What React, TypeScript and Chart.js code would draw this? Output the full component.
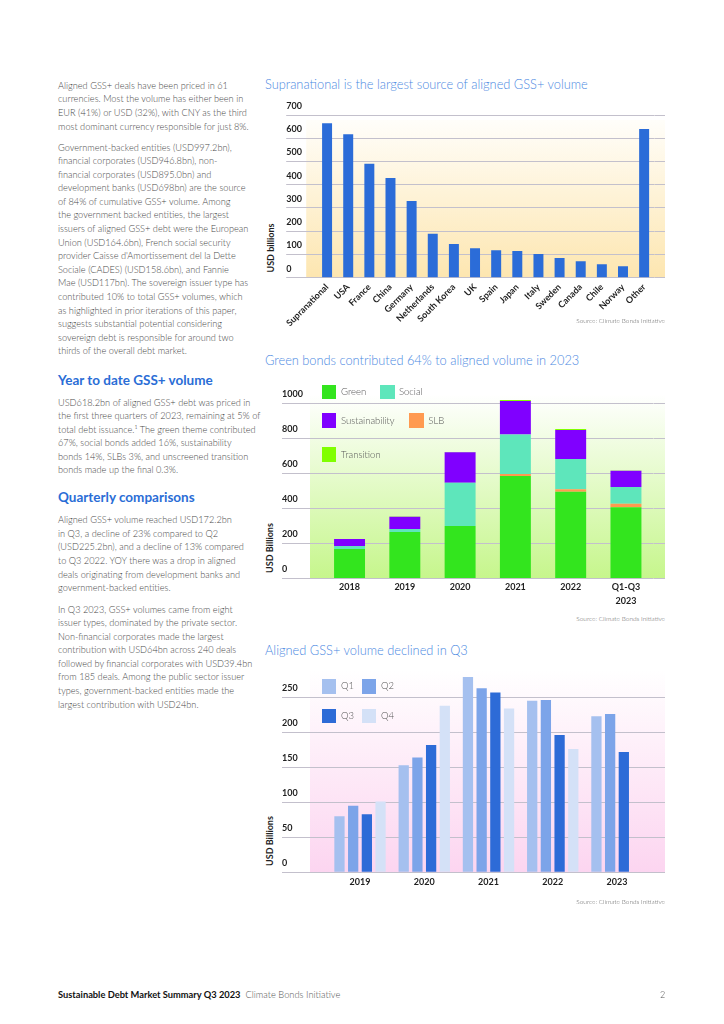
import React, { useEffect, useRef } from "react";
import { Chart, registerables } from "chart.js";

Chart.register(...registerables);

const FONT = "Lato, 'Open Sans', 'DejaVu Sans', sans-serif";
Chart.defaults.font.family = FONT;

// ---------- Chart 1: issuer countries ----------
const ISSUER_CATEGORIES = [
  "Supranational", "USA", "France", "China", "Germany", "Netherlands", "South Korea",
  "UK", "Spain", "Japan", "Italy", "Sweden", "Canada", "Chile", "Norway", "Other",
];
const ISSUER_VOLUMES = [664, 617, 490, 429, 330, 189, 145, 127, 118, 115, 102, 85, 71, 58, 49, 640];

// ---------- Chart 2: themes by year ----------
const THEME_YEARS: (string | string[])[] = ["2018", "2019", "2020", "2021", "2022", ["Q1-Q3", "2023"]];
const GREEN = [169, 266, 299, 585, 495, 407];
const SLB = [0, 0, 1, 11, 14, 19];
const SOCIAL = [16, 16, 247, 226, 173, 96];
const SUSTAINABILITY = [40, 70, 174, 191, 166, 93];
const TRANSITION = [0, 2, 1, 5, 5, 2];

// ---------- Chart 3: quarterly ----------
const QUARTER_YEARS = ["2019", "2020", "2021", "2022", "2023"];
const Q1 = [80, 153, 279, 245, 223];
const Q2 = [95, 164, 263, 246, 226];
const Q3 = [83, 182, 257, 196, 172];
const Q4 = [101, 238, 234, 176, null];

const GRID = "#c3c0cc";
const TICK_COLOR = "#1f1f1f";

const C_BLUE = "#2b6cd8";
const C_GREEN = "#33e51e";
const C_SOCIAL = "#5ee6bb";
const C_SUST = "#8000ff";
const C_SLB = "#ff9a50";
const C_TRANS = "#80ff00";
const C_Q1 = "#a5c0ef";
const C_Q2 = "#7ca4e9";
const C_Q3 = "#2d6bd7";
const C_Q4 = "#d4e1f7";

const plotBg = {
  id: "plotBg",
  beforeDraw(chart: any, _args: any, opts: any) {
    const { ctx, chartArea } = chart;
    const left = chartArea.left - opts.padLeft;
    const right = chart.width;
    const top = chartArea.top + (opts.padTop || 0);
    const bottom = chartArea.bottom;
    const g = ctx.createLinearGradient(0, top, 0, bottom);
    g.addColorStop(0, opts.top);
    g.addColorStop(1, opts.bottom);
    ctx.save();
    ctx.fillStyle = g;
    ctx.fillRect(left, top, right - left, bottom - top);
    ctx.restore();
  },
};

function leftAxis(max: number, step: number, width: number) {
  return {
    position: "left",
    min: 0,
    max,
    ticks: {
      stepSize: step,
      includeBounds: false,
      crossAlign: "far",
      labelOffset: -9,
      padding: 0,
      color: TICK_COLOR,
      font: { family: FONT, size: 9, weight: "bold" },
      callback: (v: any) => String(v),
    },
    grid: { color: GRID, lineWidth: 1, drawTicks: true, tickLength: width },
    border: { display: false },
    afterFit: (s: any) => {
      s.width = width;
    },
  };
}

function rightAxis(max: number, step: number, width: number) {
  return {
    position: "right",
    min: 0,
    max,
    ticks: { display: false, stepSize: step, includeBounds: false },
    grid: { color: GRID, lineWidth: 1, drawOnChartArea: false, drawTicks: true, tickLength: width },
    border: { display: false },
    afterFit: (s: any) => {
      s.width = width;
    },
  };
}

function xAxis(height: number, padding: number, rotation: number, stacked = false, lineHeight = 1.2) {
  return {
    stacked,
    grid: { display: false, drawTicks: false },
    border: { display: false },
    ticks: {
      autoSkip: false,
      maxRotation: rotation,
      minRotation: rotation,
      padding,
      color: TICK_COLOR,
      font: { family: FONT, size: 9, weight: "bold", lineHeight },
    },
    afterFit: (s: any) => {
      s.height = height;
    },
  };
}

function baseOptions(padTop: number, bg: any) {
  return {
    responsive: false,
    maintainAspectRatio: false,
    animation: false,
    layout: { padding: { top: padTop, left: 0, right: 0, bottom: 0 } },
    plugins: {
      legend: { display: false },
      tooltip: { enabled: false },
      plotBg: bg,
    },
  };
}

const chart1Config = {
  type: "bar",
  data: {
    labels: ISSUER_CATEGORIES,
    datasets: [
      {
        label: "Volume",
        data: ISSUER_VOLUMES,
        backgroundColor: C_BLUE,
        barPercentage: 0.59,
        categoryPercentage: 0.8,
        yAxisID: "y",
      },
    ],
  },
  plugins: [plotBg],
  options: {
    ...baseOptions(15, { padLeft: 10.3, padTop: 5, top: "#fffefa", bottom: "#fde6b0" }),
    scales: {
      x: xAxis(50.3, 4, 45),
      y: { ...leftAxis(700, 100, 30.3), stacked: false },
      yR: rightAxis(700, 100, 10.3),
    },
  },
};

const chart2Config = {
  type: "bar",
  data: {
    labels: THEME_YEARS,
    datasets: [
      { label: "Green", data: GREEN, backgroundColor: C_GREEN },
      { label: "SLB", data: SLB, backgroundColor: C_SLB },
      { label: "Social", data: SOCIAL, backgroundColor: C_SOCIAL },
      { label: "Sustainability", data: SUSTAINABILITY, backgroundColor: C_SUST },
      { label: "Transition", data: TRANSITION, backgroundColor: C_TRANS },
    ].map((d) => ({ ...d, barPercentage: 0.7, categoryPercentage: 0.8, yAxisID: "y" })),
  },
  plugins: [plotBg],
  options: {
    ...baseOptions(14.5, { padLeft: 11.9, padTop: 0, top: "#ffffff", bottom: "#c6f68c" }),
    scales: {
      x: xAxis(30.5, 0.8, 0, true, 1.65),
      y: { ...leftAxis(1050, 200, 39.9), stacked: true },
      yR: rightAxis(1050, 200, 11.4),
    },
  },
};

const chart3Config = {
  type: "bar",
  data: {
    labels: QUARTER_YEARS,
    datasets: [
      { label: "Q1", data: Q1, backgroundColor: C_Q1 },
      { label: "Q2", data: Q2, backgroundColor: C_Q2 },
      { label: "Q3", data: Q3, backgroundColor: C_Q3 },
      { label: "Q4", data: Q4, backgroundColor: C_Q4 },
    ].map((d) => ({ ...d, barPercentage: 0.75, categoryPercentage: 0.853, yAxisID: "y" })),
  },
  plugins: [plotBg],
  options: {
    ...baseOptions(14.3, { padLeft: 17.9, padTop: 0, top: "#ffffff", bottom: "#fcd5f0" }),
    scales: {
      x: xAxis(25.7, 4.5, 0),
      y: leftAxis(290, 50, 45.9),
      yR: rightAxis(290, 50, 15.9),
    },
  },
};

function ChartCanvas({ config, left, top, width, height }: any) {
  const ref = useRef<HTMLCanvasElement>(null);
  useEffect(() => {
    const chart = new Chart(ref.current as HTMLCanvasElement, config);
    return () => chart.destroy();
  }, []);
  return (
    <canvas
      ref={ref}
      width={width}
      height={height}
      style={{ position: "absolute", left, top, width, height }}
    />
  );
}

const P1 = [
  "Aligned GSS+ deals have been priced in 61",
  "currencies. Most the volume has either been in",
  "EUR (41%) or USD (32%), with CNY as the third",
  "most dominant currency responsible for just 8%.",
];
const P2 = [
  "Government-backed entities (USD997.2bn),",
  "financial corporates (USD946.8bn), non-",
  "financial corporates (USD895.0bn) and",
  "development banks (USD698bn) are the source",
  "of 84% of cumulative GSS+ volume. Among",
  "the government backed entities, the largest",
  "issuers of aligned GSS+ debt were the European",
  "Union (USD164.6bn), French social security",
  "provider Caisse d'Amortissement del la Dette",
  "Sociale (CADES) (USD158.6bn), and Fannie",
  "Mae (USD117bn). The sovereign issuer type has",
  "contributed 10% to total GSS+ volumes, which",
  "as highlighted in prior iterations of this paper,",
  "suggests substantial potential considering",
  "sovereign debt is responsible for around two",
  "thirds of the overall debt market.",
];
const P3 = [
  "USD618.2bn of aligned GSS+ debt was priced in",
  "the first three quarters of 2023, remaining at 5% of",
  "total debt issuance.\u00B9 The green theme contributed",
  "67%, social bonds added 16%, sustainability",
  "bonds 14%, SLBs 3%, and unscreened transition",
  "bonds made up the final 0.3%.",
];
const P4 = [
  "Aligned GSS+ volume reached USD172.2bn",
  "in Q3, a decline of 23% compared to Q2",
  "(USD225.2bn), and a decline of 13% compared",
  "to Q3 2022. YOY there was a drop in aligned",
  "deals originating from development banks and",
  "government-backed entities.",
];
const P5 = [
  "In Q3 2023, GSS+ volumes came from eight",
  "issuer types, dominated by the private sector.",
  "Non-financial corporates made the largest",
  "contribution with USD64bn across 240 deals",
  "followed by financial corporates with USD39.4bn",
  "from 185 deals. Among the public sector issuer",
  "types, government-backed entities made the",
  "largest contribution with USD24bn.",
];

const bodyStyle: React.CSSProperties = {
  position: "absolute",
  left: 58,
  fontFamily: FONT,
  fontWeight: 300,
  fontSize: 9.2,
  lineHeight: "13.6px",
  color: "#4a4a4a",
  whiteSpace: "nowrap",
};

function Para({ lines, top }: { lines: string[]; top: number }) {
  return (
    <div style={{ ...bodyStyle, top }}>
      {lines.map((l, i) => (
        <div key={i}>{l}</div>
      ))}
    </div>
  );
}

function Heading({ text, top }: { text: string; top: number }) {
  return (
    <div
      style={{
        position: "absolute",
        left: 58,
        top,
        fontFamily: FONT,
        fontWeight: 700,
        fontSize: 13.5,
        lineHeight: "16px",
        color: "#2a6dd6",
        whiteSpace: "nowrap",
      }}
    >
      {text}
    </div>
  );
}

function ChartTitle({ text, top }: { text: string; top: number }) {
  return (
    <div
      style={{
        position: "absolute",
        left: 265,
        top,
        fontFamily: FONT,
        fontWeight: 300,
        fontSize: 12.8,
        lineHeight: "16px",
        color: "#4b89e2",
        whiteSpace: "nowrap",
      }}
    >
      {text}
    </div>
  );
}

function Source({ top }: { top: number }) {
  return (
    <div
      style={{
        position: "absolute",
        right: 59,
        top,
        fontFamily: FONT,
        fontWeight: 300,
        fontSize: 6.5,
        lineHeight: "10px",
        color: "#666",
        whiteSpace: "nowrap",
      }}
    >
      Source: Climate Bonds Initiative
    </div>
  );
}

function YTitle({ text, cx, cy }: { text: string; cx: number; cy: number }) {
  return (
    <div
      style={{
        position: "absolute",
        left: cx,
        top: cy,
        transform: "translate(-50%, -50%) rotate(-90deg)",
        fontFamily: FONT,
        fontWeight: 700,
        fontSize: 9,
        lineHeight: "10px",
        color: TICK_COLOR,
        whiteSpace: "nowrap",
      }}
    >
      {text}
    </div>
  );
}

function LegendItem({ color, label, x, y, labelX }: any) {
  return (
    <>
      <div style={{ position: "absolute", left: x, top: y, width: 14.5, height: 14.5, background: color }} />
      <div
        style={{
          position: "absolute",
          left: labelX,
          top: y + 7.25 - 6,
          fontFamily: FONT,
          fontWeight: 300,
          fontSize: 9.5,
          lineHeight: "12px",
          color: "#555",
          whiteSpace: "nowrap",
        }}
      >
        {label}
      </div>
    </>
  );
}

export default function App() {
  return (
    <div
      style={{
        position: "absolute",
        left: 0,
        top: 0,
        width: 724,
        height: 1024,
        background: "#ffffff",
        overflow: "hidden",
      }}
    >
      <Para lines={P1} top={78.9} />
      <Para lines={P2} top={140.5} />
      <Heading text="Year to date GSS+ volume" top={372} />
      <Para lines={P3} top={395.5} />
      <Heading text="Quarterly comparisons" top={489} />
      <Para lines={P4} top={513.2} />
      <Para lines={P5} top={602.5} />

      <ChartTitle text="Supranational is the largest source of aligned GSS+ volume" top={76} />
      <ChartCanvas config={chart1Config} left={283} top={100} width={382} height={228} />
      <YTitle text="USD billions" cx={270.5} cy={247.5} />
      <Source top={316} />

      <ChartTitle text="Green bonds contributed 64% to aligned volume in 2023" top={352} />
      <ChartCanvas config={chart2Config} left={282} top={380} width={383} height={229} />
      <YTitle text="USD Billions" cx={269.5} cy={548} />
      <LegendItem color={C_GREEN} label="Green" x={321.7} y={384.7} labelX={341} />
      <LegendItem color={C_SOCIAL} label="Social" x={380} y={384.7} labelX={399} />
      <LegendItem color={C_SUST} label="Sustainability" x={321.7} y={413.3} labelX={341} />
      <LegendItem color={C_SLB} label="SLB" x={409} y={413.3} labelX={428.3} />
      <LegendItem color={C_TRANS} label="Transition" x={321.7} y={447.3} labelX={341} />
      <Source top={614} />

      <ChartTitle text="Aligned GSS+ volume declined in Q3" top={642} />
      <ChartCanvas config={chart3Config} left={282} top={655} width={383} height={243} />
      <YTitle text="USD Billions" cx={269.5} cy={841} />
      <LegendItem color={C_Q1} label="Q1" x={321.7} y={679} labelX={341} />
      <LegendItem color={C_Q2} label="Q2" x={361.7} y={679} labelX={381} />
      <LegendItem color={C_Q3} label="Q3" x={321.7} y={708.5} labelX={341} />
      <LegendItem color={C_Q4} label="Q4" x={361.7} y={708.5} labelX={381} />
      <Source top={897} />

      <div
        style={{
          position: "absolute",
          left: 58,
          top: 989,
          fontFamily: FONT,
          fontSize: 9.3,
          lineHeight: "12px",
          whiteSpace: "nowrap",
          color: "#111",
        }}
      >
        <span style={{ fontWeight: 700 }}>Sustainable Debt Market Summary Q3 2023</span>
        <span style={{ fontWeight: 300, color: "#555", marginLeft: 5 }}>Climate Bonds Initiative</span>
      </div>
      <div
        style={{
          position: "absolute",
          left: 660,
          top: 989,
          fontFamily: FONT,
          fontWeight: 300,
          fontSize: 9,
          lineHeight: "12px",
          color: "#555",
        }}
      >
        2
      </div>
    </div>
  );
}
